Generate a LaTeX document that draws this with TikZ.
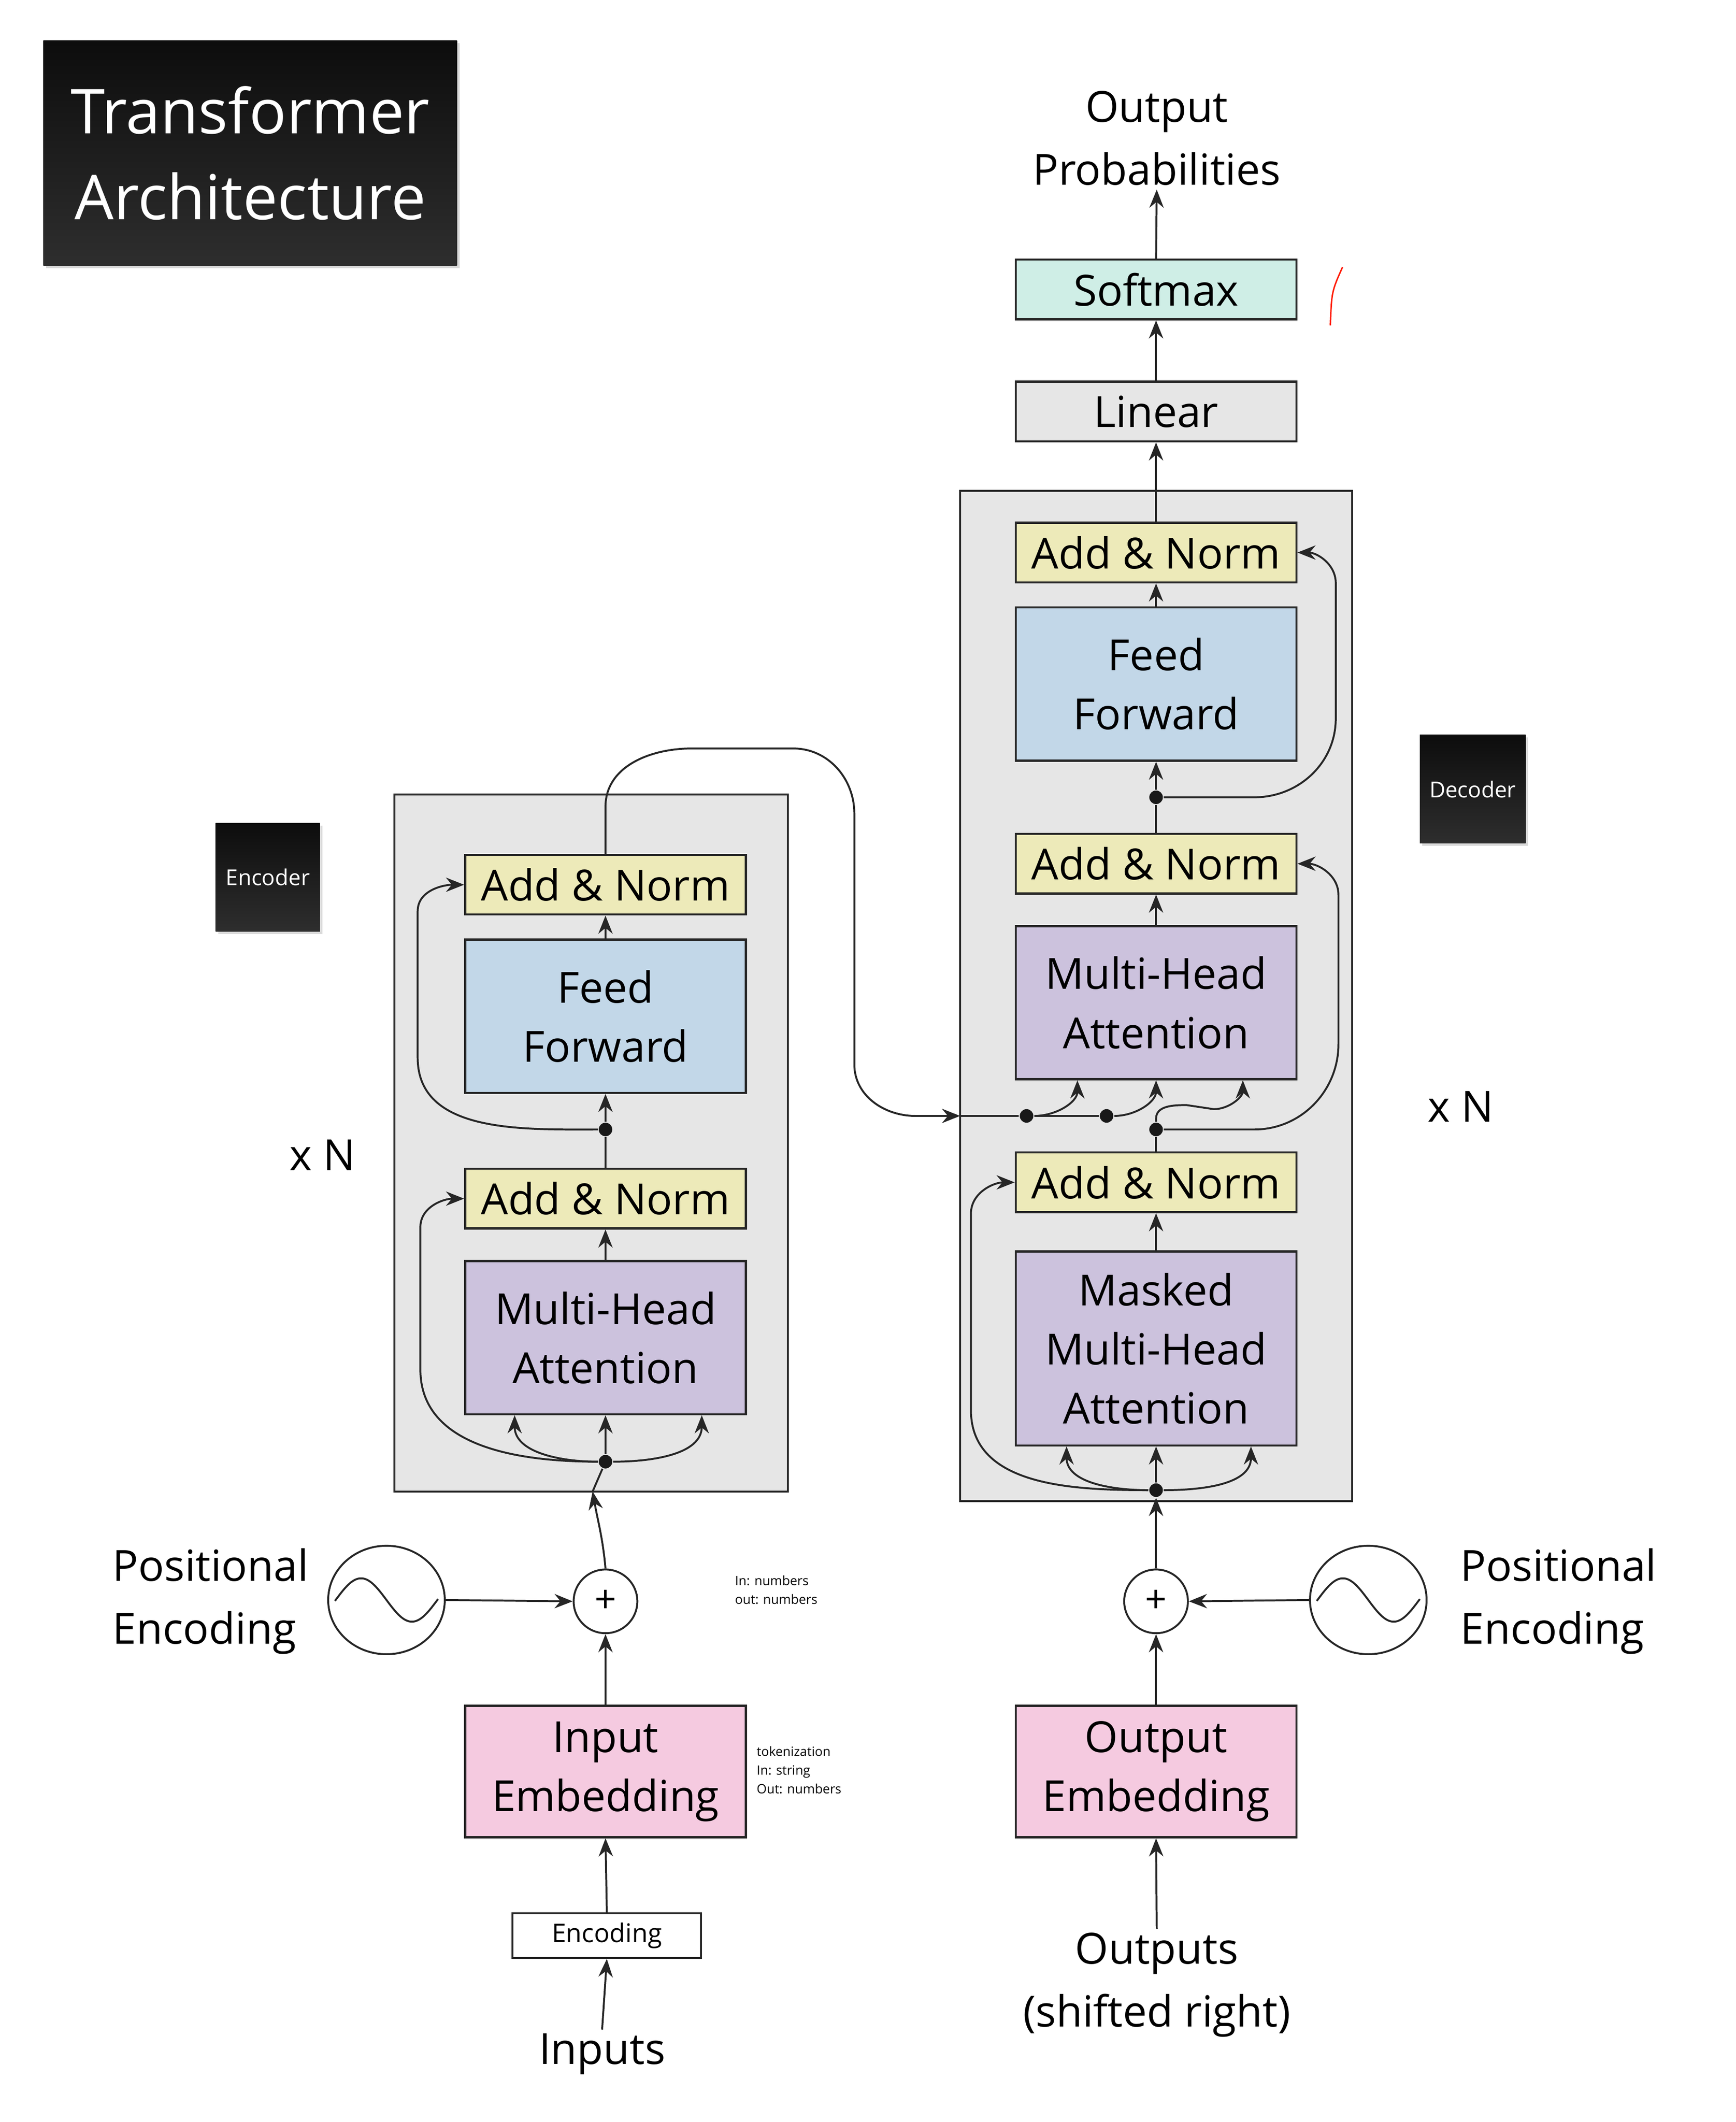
\documentclass[tikz,border=0pt]{standalone}
\usepackage{fontspec}
\setmainfont{Open Sans}
\usetikzlibrary{arrows.meta,shadows,calc,shapes.geometric}
\definecolor{normYellow}{HTML}{EDEAB9}
\definecolor{ffBlue}{HTML}{C2D7E8}
\definecolor{attnPurple}{HTML}{CCC2DD}
\definecolor{embPink}{HTML}{F5CAE0}
\definecolor{softMint}{HTML}{CFEEE6}
\definecolor{stackGray}{HTML}{E6E6E6}

\begin{document}
\begin{tikzpicture}[x=0.05cm, y=-0.05cm, line width=2pt, draw=black!85,
  arr/.style={-{Stealth[length=19pt,width=15pt]}},
  block/.style={draw, line width=2.2pt, minimum width=10.35cm, align=center, inner sep=0pt, font=\fontsize{45}{62}\selectfont},
  addnorm/.style={block, fill=normYellow, minimum height=2.2cm},
  ffwd/.style={block, fill=ffBlue, minimum height=5.65cm},
  attn/.style={block, fill=attnPurple, minimum height=5.65cm},
  embd/.style={block, fill=embPink, minimum height=4.85cm},
  stack/.style={draw, line width=2pt, fill=stackGray},
  dot/.style={circle, fill=black!90, inner sep=0pt, minimum width=0.4cm, minimum height=0.5cm},
  plus/.style={circle, draw, line width=2pt, fill=white, minimum size=2.35cm, inner sep=0pt, font=\fontsize{40}{40}\selectfont},
  wave/.style={ellipse, draw, line width=2pt, minimum width=4.3cm, minimum height=4cm, inner sep=0pt},
  lbl/.style={align=center, font=\fontsize{45}{66}\selectfont},
  tag/.style={top color=black!95, bottom color=black!82, draw=none, text=white, drop shadow={opacity=0.3}, align=center}]

\useasboundingbox (0,0) rectangle (1280,1565);

%%%%%%%%%%%%%%%%%%%%%%%%%%%%%%%%%%%%%%%%%%%%%%%%%%%%%%%%%%%%%%%%
% Labels
%%%%%%%%%%%%%%%%%%%%%%%%%%%%%%%%%%%%%%%%%%%%%%%%%%%%%%%%%%%%%%%%

\node[tag, minimum width=15.25cm, minimum height=8.3cm, font=\fontsize{65}{90}\selectfont] (title) at (184.5,113) {Transformer\\Architecture};
\node[tag, minimum width=3.85cm, minimum height=4cm, font=\fontsize{23}{28}\selectfont] (encTag) at (197.5,647) {Encoder};
\node[tag, minimum width=3.9cm, minimum height=4cm, font=\fontsize{23}{28}\selectfont] (decTag) at (1086,582) {Decoder};

\node[lbl] (eN) at (238,852) {x N};
\node[lbl] (dN) at (1077,816) {x N};

%%%%%%%%%%%%%%%%%%%%%%%%%%%%%%%%%%%%%%%%%%%%%%%%%%%%%%%%%%%%%%%%
% Encoder
%%%%%%%%%%%%%%%%%%%%%%%%%%%%%%%%%%%%%%%%%%%%%%%%%%%%%%%%%%%%%%%%

% Border
\draw[stack] (291,586) rectangle (581,1100);

% Different components
\node[addnorm] (eAN2) at (446.5,652.5) {Add \& Norm};
\node[ffwd] (eFF) at (446.5,749.5) {Feed\\Forward};
\node[addnorm] (eAN1) at (446.5,884) {Add \& Norm};
\node[attn] (eMHA) at (446.5,986.5) {Multi-Head\\Attention};

\node[dot] (eD1) at (446.5,1078) {};
\node[dot] (eD2) at (446.5,833) {};
\coordinate (eIn) at (437,1100);

% Edges
\draw[arr] (eD1) to[out=180,in=-90] ([xshift=-3.35cm]eMHA.south);
\draw[arr] (eD1) -- (eMHA.south);
\draw[arr] (eD1) to[out=0,in=-90] ([xshift=3.55cm]eMHA.south);
\draw[arr] (eD1) to[out=180,in=-90] (310,1010) -- (310,905) to[out=90,in=180] (eAN1.west);
\draw[arr] (eMHA.north) -- (eAN1.south);
\draw (eAN1.north) -- (eD2);
\draw[arr] (eD2) -- (eFF.south);
\draw[arr] (eD2) to[out=180,in=-90] (308,780) -- (308,672) to[out=90,in=180] (eAN2.west);
\draw[arr] (eFF.north) -- (eAN2.south);

% Input side
\node[plus] (ePlus) at (446.5,1181) {+};
\node[wave] (ePE) at (285,1180) {};
\draw[shift={(ePE.center)}] plot[domain=-38:38, samples=50, smooth] (\x, {16*sin(\x*4.8)});
\node[lbl, align=left, anchor=west] (ePEtxt) at (80,1181) {Positional\\Encoding};
\node[embd] (eEmb) at (446.5,1306.5) {Input\\Embedding};
\node[draw, line width=2pt, minimum width=6.95cm, minimum height=1.65cm, inner sep=0pt, font=\fontsize{27}{30}\selectfont] (eEnc) at (447.5,1427.5) {Encoding};
\node[lbl] (inputs) at (444,1515) {Inputs};
\node[align=left, anchor=north west, font=\fontsize{13.5}{19.5}\selectfont] (eNote1) at (539,1159) {In: numbers\\out: numbers};
\node[align=left, anchor=north west, font=\fontsize{13.5}{19.5}\selectfont] (eNote2) at (555,1285) {tokenization\\In: string\\Out: numbers};

\draw[arr] (inputs.north) -- (eEnc.south);
\draw[arr] (eEnc.north) -- (eEmb.south);
\draw[arr] (eEmb.north) -- (ePlus.south);
\draw[arr] (ePE.east) -- (ePlus.west);
\draw[arr] (ePlus.north) to[out=95,in=-80] (eIn);
\draw (eIn) -- (eD1);

%%%%%%%%%%%%%%%%%%%%%%%%%%%%%%%%%%%%%%%%%%%%%%%%%%%%%%%%%%%%%%%%
% Decoder
%%%%%%%%%%%%%%%%%%%%%%%%%%%%%%%%%%%%%%%%%%%%%%%%%%%%%%%%%%%%%%%%

% Border
\draw[stack] (708,362) rectangle (997,1107);

% Different components
\node[addnorm] (dAN3) at (852.5,407.5) {Add \& Norm};
\node[ffwd] (dFF) at (852.5,504.5) {Feed\\Forward};
\node[addnorm] (dAN2) at (852.5,637) {Add \& Norm};
\node[attn] (dMHA) at (852.5,739.5) {Multi-Head\\Attention};
\node[addnorm] (dAN1) at (852.5,872) {Add \& Norm};
\node[attn, minimum height=7.15cm] (dMask) at (852.5,994.5) {Masked\\Multi-Head\\Attention};
\node[block, fill=stackGray, minimum height=2.2cm] (lin) at (852.5,303.5) {Linear};
\node[block, fill=softMint, minimum height=2.2cm] (soft) at (852.5,213.5) {Softmax};
\node[lbl] (outP) at (853,102) {Output\\Probabilities};

\node[dot] (dD1) at (852.5,1099) {};
\node[dot] (dD2) at (852.5,833) {};
\node[dot] (dD3) at (852.5,588) {};
\node[dot] (dK1) at (757,823) {};
\node[dot] (dK2) at (816,823) {};
\coordinate (dIn) at (708,823);

% Edges
\draw[arr] (dD1) to[out=180,in=-90] ([xshift=-3.3cm]dMask.south);
\draw[arr] (dD1) -- (dMask.south);
\draw[arr] (dD1) to[out=0,in=-90] ([xshift=3.5cm]dMask.south);
\draw[arr] (dD1) to[out=180,in=-90] (716,1040) -- (716,895) to[out=90,in=180] (dAN1.west);
\draw[arr] (dMask.north) -- (dAN1.south);
\draw (dAN1.north) -- (dD2);
\draw[arr] (dD2) -- ++(0,-8) to[out=90,in=180] (875,815) -- (895,818) to[out=0,in=-90] ([xshift=3.2cm]dMHA.south);
\draw[arr] (dD2) -- (925,833) to[out=0,in=-90] (987,770) -- (987,660) to[out=90,in=0] (dAN2.east);
\draw[arr] (dK1) to[out=0,in=-90] ([xshift=-2.9cm]dMHA.south);
\draw[arr] (dK2) to[out=0,in=-90] (dMHA.south);
\draw[arr] (dMHA.north) -- (dAN2.south);
\draw (dAN2.north) -- (dD3);
\draw[arr] (dD3) -- (dFF.south);
\draw[arr] (dD3) -- (925,588) to[out=0,in=-90] (985,530) -- (985,430) to[out=90,in=0] (dAN3.east);
\draw[arr] (dFF.north) -- (dAN3.south);
\draw[arr] (dAN3.north) -- (lin.south);
\draw[arr] (lin.north) -- (soft.south);
\draw[arr] (soft.north) -- (outP.south);

% Input side
\node[plus] (dPlus) at (852.5,1181) {+};
\node[wave] (dPE) at (1009,1180) {};
\draw[shift={(dPE.center)}] plot[domain=-38:38, samples=50, smooth] (\x, {16*sin(\x*4.8)});
\node[lbl, align=left, anchor=west] (dPEtxt) at (1074,1181) {Positional\\Encoding};
\node[embd] (dEmb) at (852.5,1306.5) {Output\\Embedding};
\node[lbl] (outputs) at (853,1464) {Outputs\\(shifted right)};

\draw[arr] (outputs.north) -- (dEmb.south);
\draw[arr] (dEmb.north) -- (dPlus.south);
\draw[arr] (dPE.west) -- (dPlus.east);
\draw[arr] (dPlus.north) -- (dD1);

%%%%%%%%%%%%%%%%%%%%%%%%%%%%%%%%%%%%%%%%%%%%%%%%%%%%%%%%%%%%%%%%
% Encoder --> Decoder
%%%%%%%%%%%%%%%%%%%%%%%%%%%%%%%%%%%%%%%%%%%%%%%%%%%%%%%%%%%%%%%%

\draw[arr] (eAN2.north) -- (446.5,595) to[out=90,in=180] (510,552) -- (585,552) to[out=0,in=90] (630,600) -- (630,785) to[out=-90,in=180] (675,823) -- (dIn);
\draw (dIn) -- (dK1) -- (dK2);

% pen mark
\draw[red!80!orange, line width=1.5pt] (990,197) .. controls (982,215) .. (981,240);

\end{tikzpicture}
\end{document}
